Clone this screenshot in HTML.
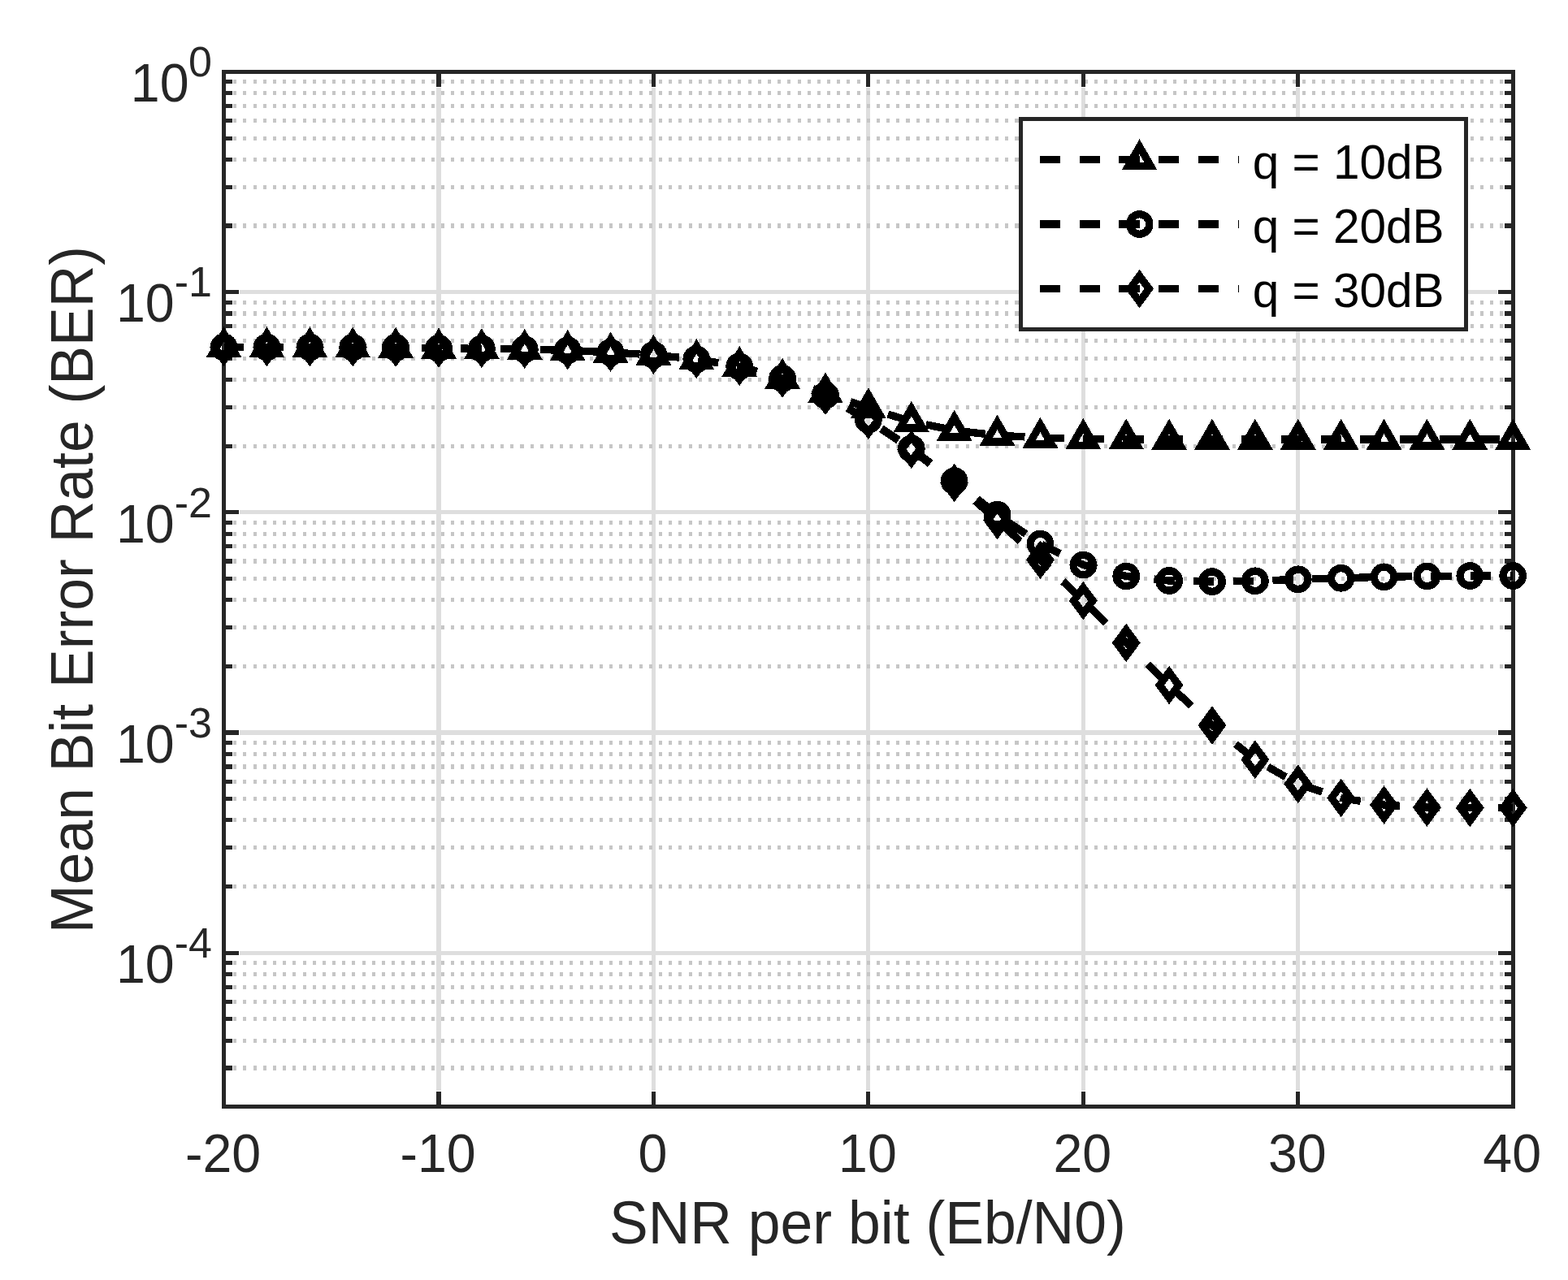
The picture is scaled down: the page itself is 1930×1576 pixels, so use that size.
<!DOCTYPE html>
<html lang="en">
<head>
<meta charset="utf-8">
<title>Mean Bit Error Rate vs SNR per bit</title>
<style>
html,body{margin:0;padding:0;background:#fff;}
body{width:1930px;height:1576px;}
svg{display:block;}
</style>
</head>
<body>
<svg width="1930" height="1576" viewBox="0 0 1930 1576" role="img" aria-label="Mean Bit Error Rate versus SNR per bit">
<rect width="1930" height="1576" fill="#fff"/>
<g shape-rendering="crispEdges" fill="none">
<line x1="540.00" y1="88.52" x2="540.00" y2="1362.69" stroke="#dedede" stroke-width="5.12"/>
<line x1="804.44" y1="88.52" x2="804.44" y2="1362.69" stroke="#dedede" stroke-width="5.12"/>
<line x1="1068.88" y1="88.52" x2="1068.88" y2="1362.69" stroke="#dedede" stroke-width="5.12"/>
<line x1="1333.32" y1="88.52" x2="1333.32" y2="1362.69" stroke="#dedede" stroke-width="5.12"/>
<line x1="1597.76" y1="88.52" x2="1597.76" y2="1362.69" stroke="#dedede" stroke-width="5.12"/>
<line x1="275.56" y1="359.68" x2="1862.2" y2="359.68" stroke="#dedede" stroke-width="5.12"/>
<line x1="275.56" y1="630.84" x2="1862.2" y2="630.84" stroke="#dedede" stroke-width="5.12"/>
<line x1="275.56" y1="902.00" x2="1862.2" y2="902.00" stroke="#dedede" stroke-width="5.12"/>
<line x1="275.56" y1="1173.16" x2="1862.2" y2="1173.16" stroke="#dedede" stroke-width="5.12"/>
<line x1="275.06" y1="278.05" x2="1862.20" y2="278.05" stroke="#c6c6c6" stroke-width="5.12" stroke-dasharray="4.045 8.135"/>
<line x1="275.06" y1="230.30" x2="1862.20" y2="230.30" stroke="#c6c6c6" stroke-width="5.12" stroke-dasharray="4.045 8.135"/>
<line x1="275.06" y1="196.43" x2="1862.20" y2="196.43" stroke="#c6c6c6" stroke-width="5.12" stroke-dasharray="4.045 8.135"/>
<line x1="275.06" y1="170.15" x2="1862.20" y2="170.15" stroke="#c6c6c6" stroke-width="5.12" stroke-dasharray="4.045 8.135"/>
<line x1="275.06" y1="148.68" x2="1862.20" y2="148.68" stroke="#c6c6c6" stroke-width="5.12" stroke-dasharray="4.045 8.135"/>
<line x1="275.06" y1="130.52" x2="1862.20" y2="130.52" stroke="#c6c6c6" stroke-width="5.12" stroke-dasharray="4.045 8.135"/>
<line x1="275.06" y1="114.80" x2="1862.20" y2="114.80" stroke="#c6c6c6" stroke-width="5.12" stroke-dasharray="4.045 8.135"/>
<line x1="275.06" y1="100.93" x2="1862.20" y2="100.93" stroke="#c6c6c6" stroke-width="5.12" stroke-dasharray="4.045 8.135"/>
<line x1="275.06" y1="549.21" x2="1862.20" y2="549.21" stroke="#c6c6c6" stroke-width="5.12" stroke-dasharray="4.045 8.135"/>
<line x1="275.06" y1="501.46" x2="1862.20" y2="501.46" stroke="#c6c6c6" stroke-width="5.12" stroke-dasharray="4.045 8.135"/>
<line x1="275.06" y1="467.58" x2="1862.20" y2="467.58" stroke="#c6c6c6" stroke-width="5.12" stroke-dasharray="4.045 8.135"/>
<line x1="275.06" y1="441.31" x2="1862.20" y2="441.31" stroke="#c6c6c6" stroke-width="5.12" stroke-dasharray="4.045 8.135"/>
<line x1="275.06" y1="419.84" x2="1862.20" y2="419.84" stroke="#c6c6c6" stroke-width="5.12" stroke-dasharray="4.045 8.135"/>
<line x1="275.06" y1="401.68" x2="1862.20" y2="401.68" stroke="#c6c6c6" stroke-width="5.12" stroke-dasharray="4.045 8.135"/>
<line x1="275.06" y1="385.96" x2="1862.20" y2="385.96" stroke="#c6c6c6" stroke-width="5.12" stroke-dasharray="4.045 8.135"/>
<line x1="275.06" y1="372.09" x2="1862.20" y2="372.09" stroke="#c6c6c6" stroke-width="5.12" stroke-dasharray="4.045 8.135"/>
<line x1="275.06" y1="820.37" x2="1862.20" y2="820.37" stroke="#c6c6c6" stroke-width="5.12" stroke-dasharray="4.045 8.135"/>
<line x1="275.06" y1="772.62" x2="1862.20" y2="772.62" stroke="#c6c6c6" stroke-width="5.12" stroke-dasharray="4.045 8.135"/>
<line x1="275.06" y1="738.74" x2="1862.20" y2="738.74" stroke="#c6c6c6" stroke-width="5.12" stroke-dasharray="4.045 8.135"/>
<line x1="275.06" y1="712.47" x2="1862.20" y2="712.47" stroke="#c6c6c6" stroke-width="5.12" stroke-dasharray="4.045 8.135"/>
<line x1="275.06" y1="691.00" x2="1862.20" y2="691.00" stroke="#c6c6c6" stroke-width="5.12" stroke-dasharray="4.045 8.135"/>
<line x1="275.06" y1="672.84" x2="1862.20" y2="672.84" stroke="#c6c6c6" stroke-width="5.12" stroke-dasharray="4.045 8.135"/>
<line x1="275.06" y1="657.12" x2="1862.20" y2="657.12" stroke="#c6c6c6" stroke-width="5.12" stroke-dasharray="4.045 8.135"/>
<line x1="275.06" y1="643.25" x2="1862.20" y2="643.25" stroke="#c6c6c6" stroke-width="5.12" stroke-dasharray="4.045 8.135"/>
<line x1="275.06" y1="1091.53" x2="1862.20" y2="1091.53" stroke="#c6c6c6" stroke-width="5.12" stroke-dasharray="4.045 8.135"/>
<line x1="275.06" y1="1043.78" x2="1862.20" y2="1043.78" stroke="#c6c6c6" stroke-width="5.12" stroke-dasharray="4.045 8.135"/>
<line x1="275.06" y1="1009.90" x2="1862.20" y2="1009.90" stroke="#c6c6c6" stroke-width="5.12" stroke-dasharray="4.045 8.135"/>
<line x1="275.06" y1="983.63" x2="1862.20" y2="983.63" stroke="#c6c6c6" stroke-width="5.12" stroke-dasharray="4.045 8.135"/>
<line x1="275.06" y1="962.15" x2="1862.20" y2="962.15" stroke="#c6c6c6" stroke-width="5.12" stroke-dasharray="4.045 8.135"/>
<line x1="275.06" y1="944.00" x2="1862.20" y2="944.00" stroke="#c6c6c6" stroke-width="5.12" stroke-dasharray="4.045 8.135"/>
<line x1="275.06" y1="928.28" x2="1862.20" y2="928.28" stroke="#c6c6c6" stroke-width="5.12" stroke-dasharray="4.045 8.135"/>
<line x1="275.06" y1="914.41" x2="1862.20" y2="914.41" stroke="#c6c6c6" stroke-width="5.12" stroke-dasharray="4.045 8.135"/>
<line x1="275.06" y1="1314.94" x2="1862.20" y2="1314.94" stroke="#c6c6c6" stroke-width="5.12" stroke-dasharray="4.045 8.135"/>
<line x1="275.06" y1="1281.06" x2="1862.20" y2="1281.06" stroke="#c6c6c6" stroke-width="5.12" stroke-dasharray="4.045 8.135"/>
<line x1="275.06" y1="1254.78" x2="1862.20" y2="1254.78" stroke="#c6c6c6" stroke-width="5.12" stroke-dasharray="4.045 8.135"/>
<line x1="275.06" y1="1233.31" x2="1862.20" y2="1233.31" stroke="#c6c6c6" stroke-width="5.12" stroke-dasharray="4.045 8.135"/>
<line x1="275.06" y1="1215.16" x2="1862.20" y2="1215.16" stroke="#c6c6c6" stroke-width="5.12" stroke-dasharray="4.045 8.135"/>
<line x1="275.06" y1="1199.44" x2="1862.20" y2="1199.44" stroke="#c6c6c6" stroke-width="5.12" stroke-dasharray="4.045 8.135"/>
<line x1="275.06" y1="1185.57" x2="1862.20" y2="1185.57" stroke="#c6c6c6" stroke-width="5.12" stroke-dasharray="4.045 8.135"/>
</g>
<g shape-rendering="crispEdges" fill="none" stroke="#fff" stroke-width="5.12">
<line x1="540.00" y1="1362.69" x2="540.00" y2="1343.24"/>
<line x1="540.00" y1="88.52" x2="540.00" y2="107.97"/>
<line x1="804.44" y1="1362.69" x2="804.44" y2="1343.24"/>
<line x1="804.44" y1="88.52" x2="804.44" y2="107.97"/>
<line x1="1068.88" y1="1362.69" x2="1068.88" y2="1343.24"/>
<line x1="1068.88" y1="88.52" x2="1068.88" y2="107.97"/>
<line x1="1333.32" y1="1362.69" x2="1333.32" y2="1343.24"/>
<line x1="1333.32" y1="88.52" x2="1333.32" y2="107.97"/>
<line x1="1597.76" y1="1362.69" x2="1597.76" y2="1343.24"/>
<line x1="1597.76" y1="88.52" x2="1597.76" y2="107.97"/>
<line x1="275.56" y1="278.05" x2="287.08" y2="278.05"/>
<line x1="1862.2" y1="278.05" x2="1850.68" y2="278.05"/>
<line x1="275.56" y1="230.30" x2="287.08" y2="230.30"/>
<line x1="1862.2" y1="230.30" x2="1850.68" y2="230.30"/>
<line x1="275.56" y1="196.43" x2="287.08" y2="196.43"/>
<line x1="1862.2" y1="196.43" x2="1850.68" y2="196.43"/>
<line x1="275.56" y1="170.15" x2="287.08" y2="170.15"/>
<line x1="1862.2" y1="170.15" x2="1850.68" y2="170.15"/>
<line x1="275.56" y1="148.68" x2="287.08" y2="148.68"/>
<line x1="1862.2" y1="148.68" x2="1850.68" y2="148.68"/>
<line x1="275.56" y1="130.52" x2="287.08" y2="130.52"/>
<line x1="1862.2" y1="130.52" x2="1850.68" y2="130.52"/>
<line x1="275.56" y1="114.80" x2="287.08" y2="114.80"/>
<line x1="1862.2" y1="114.80" x2="1850.68" y2="114.80"/>
<line x1="275.56" y1="100.93" x2="287.08" y2="100.93"/>
<line x1="1862.2" y1="100.93" x2="1850.68" y2="100.93"/>
<line x1="275.56" y1="359.68" x2="295.01" y2="359.68"/>
<line x1="1862.2" y1="359.68" x2="1842.75" y2="359.68"/>
<line x1="275.56" y1="549.21" x2="287.08" y2="549.21"/>
<line x1="1862.2" y1="549.21" x2="1850.68" y2="549.21"/>
<line x1="275.56" y1="501.46" x2="287.08" y2="501.46"/>
<line x1="1862.2" y1="501.46" x2="1850.68" y2="501.46"/>
<line x1="275.56" y1="467.58" x2="287.08" y2="467.58"/>
<line x1="1862.2" y1="467.58" x2="1850.68" y2="467.58"/>
<line x1="275.56" y1="441.31" x2="287.08" y2="441.31"/>
<line x1="1862.2" y1="441.31" x2="1850.68" y2="441.31"/>
<line x1="275.56" y1="419.84" x2="287.08" y2="419.84"/>
<line x1="1862.2" y1="419.84" x2="1850.68" y2="419.84"/>
<line x1="275.56" y1="401.68" x2="287.08" y2="401.68"/>
<line x1="1862.2" y1="401.68" x2="1850.68" y2="401.68"/>
<line x1="275.56" y1="385.96" x2="287.08" y2="385.96"/>
<line x1="1862.2" y1="385.96" x2="1850.68" y2="385.96"/>
<line x1="275.56" y1="372.09" x2="287.08" y2="372.09"/>
<line x1="1862.2" y1="372.09" x2="1850.68" y2="372.09"/>
<line x1="275.56" y1="630.84" x2="295.01" y2="630.84"/>
<line x1="1862.2" y1="630.84" x2="1842.75" y2="630.84"/>
<line x1="275.56" y1="820.37" x2="287.08" y2="820.37"/>
<line x1="1862.2" y1="820.37" x2="1850.68" y2="820.37"/>
<line x1="275.56" y1="772.62" x2="287.08" y2="772.62"/>
<line x1="1862.2" y1="772.62" x2="1850.68" y2="772.62"/>
<line x1="275.56" y1="738.74" x2="287.08" y2="738.74"/>
<line x1="1862.2" y1="738.74" x2="1850.68" y2="738.74"/>
<line x1="275.56" y1="712.47" x2="287.08" y2="712.47"/>
<line x1="1862.2" y1="712.47" x2="1850.68" y2="712.47"/>
<line x1="275.56" y1="691.00" x2="287.08" y2="691.00"/>
<line x1="1862.2" y1="691.00" x2="1850.68" y2="691.00"/>
<line x1="275.56" y1="672.84" x2="287.08" y2="672.84"/>
<line x1="1862.2" y1="672.84" x2="1850.68" y2="672.84"/>
<line x1="275.56" y1="657.12" x2="287.08" y2="657.12"/>
<line x1="1862.2" y1="657.12" x2="1850.68" y2="657.12"/>
<line x1="275.56" y1="643.25" x2="287.08" y2="643.25"/>
<line x1="1862.2" y1="643.25" x2="1850.68" y2="643.25"/>
<line x1="275.56" y1="902.00" x2="295.01" y2="902.00"/>
<line x1="1862.2" y1="902.00" x2="1842.75" y2="902.00"/>
<line x1="275.56" y1="1091.53" x2="287.08" y2="1091.53"/>
<line x1="1862.2" y1="1091.53" x2="1850.68" y2="1091.53"/>
<line x1="275.56" y1="1043.78" x2="287.08" y2="1043.78"/>
<line x1="1862.2" y1="1043.78" x2="1850.68" y2="1043.78"/>
<line x1="275.56" y1="1009.90" x2="287.08" y2="1009.90"/>
<line x1="1862.2" y1="1009.90" x2="1850.68" y2="1009.90"/>
<line x1="275.56" y1="983.63" x2="287.08" y2="983.63"/>
<line x1="1862.2" y1="983.63" x2="1850.68" y2="983.63"/>
<line x1="275.56" y1="962.15" x2="287.08" y2="962.15"/>
<line x1="1862.2" y1="962.15" x2="1850.68" y2="962.15"/>
<line x1="275.56" y1="944.00" x2="287.08" y2="944.00"/>
<line x1="1862.2" y1="944.00" x2="1850.68" y2="944.00"/>
<line x1="275.56" y1="928.28" x2="287.08" y2="928.28"/>
<line x1="1862.2" y1="928.28" x2="1850.68" y2="928.28"/>
<line x1="275.56" y1="914.41" x2="287.08" y2="914.41"/>
<line x1="1862.2" y1="914.41" x2="1850.68" y2="914.41"/>
<line x1="275.56" y1="1173.16" x2="295.01" y2="1173.16"/>
<line x1="1862.2" y1="1173.16" x2="1842.75" y2="1173.16"/>
<line x1="275.56" y1="1314.94" x2="287.08" y2="1314.94"/>
<line x1="1862.2" y1="1314.94" x2="1850.68" y2="1314.94"/>
<line x1="275.56" y1="1281.06" x2="287.08" y2="1281.06"/>
<line x1="1862.2" y1="1281.06" x2="1850.68" y2="1281.06"/>
<line x1="275.56" y1="1254.78" x2="287.08" y2="1254.78"/>
<line x1="1862.2" y1="1254.78" x2="1850.68" y2="1254.78"/>
<line x1="275.56" y1="1233.31" x2="287.08" y2="1233.31"/>
<line x1="1862.2" y1="1233.31" x2="1850.68" y2="1233.31"/>
<line x1="275.56" y1="1215.16" x2="287.08" y2="1215.16"/>
<line x1="1862.2" y1="1215.16" x2="1850.68" y2="1215.16"/>
<line x1="275.56" y1="1199.44" x2="287.08" y2="1199.44"/>
<line x1="1862.2" y1="1199.44" x2="1850.68" y2="1199.44"/>
<line x1="275.56" y1="1185.57" x2="287.08" y2="1185.57"/>
<line x1="1862.2" y1="1185.57" x2="1850.68" y2="1185.57"/>
</g>
<g shape-rendering="crispEdges" fill="none" stroke="#262626" stroke-width="5.12">
<rect x="275.56" y="88.52" width="1586.64" height="1274.17"/>
<line x1="540.00" y1="1362.69" x2="540.00" y2="1344.24"/>
<line x1="540.00" y1="88.52" x2="540.00" y2="106.97"/>
<line x1="804.44" y1="1362.69" x2="804.44" y2="1344.24"/>
<line x1="804.44" y1="88.52" x2="804.44" y2="106.97"/>
<line x1="1068.88" y1="1362.69" x2="1068.88" y2="1344.24"/>
<line x1="1068.88" y1="88.52" x2="1068.88" y2="106.97"/>
<line x1="1333.32" y1="1362.69" x2="1333.32" y2="1344.24"/>
<line x1="1333.32" y1="88.52" x2="1333.32" y2="106.97"/>
<line x1="1597.76" y1="1362.69" x2="1597.76" y2="1344.24"/>
<line x1="1597.76" y1="88.52" x2="1597.76" y2="106.97"/>
<line x1="275.56" y1="278.05" x2="286.08" y2="278.05"/>
<line x1="1862.2" y1="278.05" x2="1851.68" y2="278.05"/>
<line x1="275.56" y1="230.30" x2="286.08" y2="230.30"/>
<line x1="1862.2" y1="230.30" x2="1851.68" y2="230.30"/>
<line x1="275.56" y1="196.43" x2="286.08" y2="196.43"/>
<line x1="1862.2" y1="196.43" x2="1851.68" y2="196.43"/>
<line x1="275.56" y1="170.15" x2="286.08" y2="170.15"/>
<line x1="1862.2" y1="170.15" x2="1851.68" y2="170.15"/>
<line x1="275.56" y1="148.68" x2="286.08" y2="148.68"/>
<line x1="1862.2" y1="148.68" x2="1851.68" y2="148.68"/>
<line x1="275.56" y1="130.52" x2="286.08" y2="130.52"/>
<line x1="1862.2" y1="130.52" x2="1851.68" y2="130.52"/>
<line x1="275.56" y1="114.80" x2="286.08" y2="114.80"/>
<line x1="1862.2" y1="114.80" x2="1851.68" y2="114.80"/>
<line x1="275.56" y1="100.93" x2="286.08" y2="100.93"/>
<line x1="1862.2" y1="100.93" x2="1851.68" y2="100.93"/>
<line x1="275.56" y1="359.68" x2="294.01" y2="359.68"/>
<line x1="1862.2" y1="359.68" x2="1843.75" y2="359.68"/>
<line x1="275.56" y1="549.21" x2="286.08" y2="549.21"/>
<line x1="1862.2" y1="549.21" x2="1851.68" y2="549.21"/>
<line x1="275.56" y1="501.46" x2="286.08" y2="501.46"/>
<line x1="1862.2" y1="501.46" x2="1851.68" y2="501.46"/>
<line x1="275.56" y1="467.58" x2="286.08" y2="467.58"/>
<line x1="1862.2" y1="467.58" x2="1851.68" y2="467.58"/>
<line x1="275.56" y1="441.31" x2="286.08" y2="441.31"/>
<line x1="1862.2" y1="441.31" x2="1851.68" y2="441.31"/>
<line x1="275.56" y1="419.84" x2="286.08" y2="419.84"/>
<line x1="1862.2" y1="419.84" x2="1851.68" y2="419.84"/>
<line x1="275.56" y1="401.68" x2="286.08" y2="401.68"/>
<line x1="1862.2" y1="401.68" x2="1851.68" y2="401.68"/>
<line x1="275.56" y1="385.96" x2="286.08" y2="385.96"/>
<line x1="1862.2" y1="385.96" x2="1851.68" y2="385.96"/>
<line x1="275.56" y1="372.09" x2="286.08" y2="372.09"/>
<line x1="1862.2" y1="372.09" x2="1851.68" y2="372.09"/>
<line x1="275.56" y1="630.84" x2="294.01" y2="630.84"/>
<line x1="1862.2" y1="630.84" x2="1843.75" y2="630.84"/>
<line x1="275.56" y1="820.37" x2="286.08" y2="820.37"/>
<line x1="1862.2" y1="820.37" x2="1851.68" y2="820.37"/>
<line x1="275.56" y1="772.62" x2="286.08" y2="772.62"/>
<line x1="1862.2" y1="772.62" x2="1851.68" y2="772.62"/>
<line x1="275.56" y1="738.74" x2="286.08" y2="738.74"/>
<line x1="1862.2" y1="738.74" x2="1851.68" y2="738.74"/>
<line x1="275.56" y1="712.47" x2="286.08" y2="712.47"/>
<line x1="1862.2" y1="712.47" x2="1851.68" y2="712.47"/>
<line x1="275.56" y1="691.00" x2="286.08" y2="691.00"/>
<line x1="1862.2" y1="691.00" x2="1851.68" y2="691.00"/>
<line x1="275.56" y1="672.84" x2="286.08" y2="672.84"/>
<line x1="1862.2" y1="672.84" x2="1851.68" y2="672.84"/>
<line x1="275.56" y1="657.12" x2="286.08" y2="657.12"/>
<line x1="1862.2" y1="657.12" x2="1851.68" y2="657.12"/>
<line x1="275.56" y1="643.25" x2="286.08" y2="643.25"/>
<line x1="1862.2" y1="643.25" x2="1851.68" y2="643.25"/>
<line x1="275.56" y1="902.00" x2="294.01" y2="902.00"/>
<line x1="1862.2" y1="902.00" x2="1843.75" y2="902.00"/>
<line x1="275.56" y1="1091.53" x2="286.08" y2="1091.53"/>
<line x1="1862.2" y1="1091.53" x2="1851.68" y2="1091.53"/>
<line x1="275.56" y1="1043.78" x2="286.08" y2="1043.78"/>
<line x1="1862.2" y1="1043.78" x2="1851.68" y2="1043.78"/>
<line x1="275.56" y1="1009.90" x2="286.08" y2="1009.90"/>
<line x1="1862.2" y1="1009.90" x2="1851.68" y2="1009.90"/>
<line x1="275.56" y1="983.63" x2="286.08" y2="983.63"/>
<line x1="1862.2" y1="983.63" x2="1851.68" y2="983.63"/>
<line x1="275.56" y1="962.15" x2="286.08" y2="962.15"/>
<line x1="1862.2" y1="962.15" x2="1851.68" y2="962.15"/>
<line x1="275.56" y1="944.00" x2="286.08" y2="944.00"/>
<line x1="1862.2" y1="944.00" x2="1851.68" y2="944.00"/>
<line x1="275.56" y1="928.28" x2="286.08" y2="928.28"/>
<line x1="1862.2" y1="928.28" x2="1851.68" y2="928.28"/>
<line x1="275.56" y1="914.41" x2="286.08" y2="914.41"/>
<line x1="1862.2" y1="914.41" x2="1851.68" y2="914.41"/>
<line x1="275.56" y1="1173.16" x2="294.01" y2="1173.16"/>
<line x1="1862.2" y1="1173.16" x2="1843.75" y2="1173.16"/>
<line x1="275.56" y1="1314.94" x2="286.08" y2="1314.94"/>
<line x1="1862.2" y1="1314.94" x2="1851.68" y2="1314.94"/>
<line x1="275.56" y1="1281.06" x2="286.08" y2="1281.06"/>
<line x1="1862.2" y1="1281.06" x2="1851.68" y2="1281.06"/>
<line x1="275.56" y1="1254.78" x2="286.08" y2="1254.78"/>
<line x1="1862.2" y1="1254.78" x2="1851.68" y2="1254.78"/>
<line x1="275.56" y1="1233.31" x2="286.08" y2="1233.31"/>
<line x1="1862.2" y1="1233.31" x2="1851.68" y2="1233.31"/>
<line x1="275.56" y1="1215.16" x2="286.08" y2="1215.16"/>
<line x1="1862.2" y1="1215.16" x2="1851.68" y2="1215.16"/>
<line x1="275.56" y1="1199.44" x2="286.08" y2="1199.44"/>
<line x1="1862.2" y1="1199.44" x2="1851.68" y2="1199.44"/>
<line x1="275.56" y1="1185.57" x2="286.08" y2="1185.57"/>
<line x1="1862.2" y1="1185.57" x2="1851.68" y2="1185.57"/>
</g>
<g fill="none" stroke="#000" stroke-width="9.33" stroke-miterlimit="10" shape-rendering="crispEdges">
<polyline points="275.56,427.30 328.45,427.40 381.34,427.50 434.22,427.70 487.11,428.00 540.00,428.90 592.89,429.30 645.78,430.10 698.66,431.30 751.55,433.90 804.44,437.00 857.33,442.30 910.22,451.20 963.10,466.00 1015.99,483.60 1068.88,502.50 1121.77,519.00 1174.66,530.00 1227.54,536.00 1280.43,539.00 1333.32,540.30 1386.21,540.80 1439.10,541.00 1491.98,541.00 1544.87,541.00 1597.76,541.00 1650.65,541.00 1703.54,541.00 1756.42,541.00 1809.31,541.00 1862.20,541.00" stroke-dasharray="25.36 23.36" stroke-dashoffset="0.5" stroke-linejoin="round"/>
<path d="M261.71 435.30L289.41 435.30L275.56 411.30Z"/>
<path d="M314.60 435.40L342.30 435.40L328.45 411.40Z"/>
<path d="M367.49 435.50L395.19 435.50L381.34 411.50Z"/>
<path d="M420.37 435.70L448.07 435.70L434.22 411.70Z"/>
<path d="M473.26 436.00L500.96 436.00L487.11 412.00Z"/>
<path d="M526.15 436.90L553.85 436.90L540.00 412.90Z"/>
<path d="M579.04 437.30L606.74 437.30L592.89 413.30Z"/>
<path d="M631.93 438.10L659.63 438.10L645.78 414.10Z"/>
<path d="M684.81 439.30L712.51 439.30L698.66 415.30Z"/>
<path d="M737.70 441.90L765.40 441.90L751.55 417.90Z"/>
<path d="M790.59 445.00L818.29 445.00L804.44 421.00Z"/>
<path d="M843.48 450.30L871.18 450.30L857.33 426.30Z"/>
<path d="M896.37 459.20L924.07 459.20L910.22 435.20Z"/>
<path d="M949.25 474.00L976.95 474.00L963.10 450.00Z"/>
<path d="M1002.14 491.60L1029.84 491.60L1015.99 467.60Z"/>
<path d="M1055.03 510.50L1082.73 510.50L1068.88 486.50Z"/>
<path d="M1107.92 527.00L1135.62 527.00L1121.77 503.00Z"/>
<path d="M1160.81 538.00L1188.51 538.00L1174.66 514.00Z"/>
<path d="M1213.69 544.00L1241.39 544.00L1227.54 520.00Z"/>
<path d="M1266.58 547.00L1294.28 547.00L1280.43 523.00Z"/>
<path d="M1319.47 548.30L1347.17 548.30L1333.32 524.30Z"/>
<path d="M1372.36 548.80L1400.06 548.80L1386.21 524.80Z"/>
<path d="M1425.25 549.00L1452.95 549.00L1439.10 525.00Z"/>
<path d="M1478.13 549.00L1505.83 549.00L1491.98 525.00Z"/>
<path d="M1531.02 549.00L1558.72 549.00L1544.87 525.00Z"/>
<path d="M1583.91 549.00L1611.61 549.00L1597.76 525.00Z"/>
<path d="M1636.80 549.00L1664.50 549.00L1650.65 525.00Z"/>
<path d="M1689.69 549.00L1717.39 549.00L1703.54 525.00Z"/>
<path d="M1742.57 549.00L1770.27 549.00L1756.42 525.00Z"/>
<path d="M1795.46 549.00L1823.16 549.00L1809.31 525.00Z"/>
<path d="M1848.35 549.00L1876.05 549.00L1862.20 525.00Z"/>
<polyline points="275.56,427.30 328.45,427.40 381.34,427.50 434.22,427.70 487.11,428.00 540.00,428.90 592.89,429.30 645.78,430.10 698.66,431.30 751.55,433.90 804.44,437.00 857.33,442.30 910.22,451.20 963.10,466.00 1015.99,486.80 1068.88,516.90 1121.77,552.30 1174.66,592.30 1227.54,633.70 1280.43,669.60 1333.32,695.60 1386.21,709.50 1439.10,715.00 1491.98,716.10 1544.87,715.30 1597.76,713.30 1650.65,711.80 1703.54,710.30 1756.42,709.40 1809.31,709.00 1862.20,709.00" stroke-dasharray="25.36 23.36" stroke-dashoffset="0.5" stroke-linejoin="round"/>
<circle cx="275.56" cy="427.30" r="12.2"/>
<circle cx="328.45" cy="427.40" r="12.2"/>
<circle cx="381.34" cy="427.50" r="12.2"/>
<circle cx="434.22" cy="427.70" r="12.2"/>
<circle cx="487.11" cy="428.00" r="12.2"/>
<circle cx="540.00" cy="428.90" r="12.2"/>
<circle cx="592.89" cy="429.30" r="12.2"/>
<circle cx="645.78" cy="430.10" r="12.2"/>
<circle cx="698.66" cy="431.30" r="12.2"/>
<circle cx="751.55" cy="433.90" r="12.2"/>
<circle cx="804.44" cy="437.00" r="12.2"/>
<circle cx="857.33" cy="442.30" r="12.2"/>
<circle cx="910.22" cy="451.20" r="12.2"/>
<circle cx="963.10" cy="466.00" r="12.2"/>
<circle cx="1015.99" cy="486.80" r="12.2"/>
<circle cx="1068.88" cy="516.90" r="12.2"/>
<circle cx="1121.77" cy="552.30" r="12.2"/>
<circle cx="1174.66" cy="592.30" r="12.2"/>
<circle cx="1227.54" cy="633.70" r="12.2"/>
<circle cx="1280.43" cy="669.60" r="12.2"/>
<circle cx="1333.32" cy="695.60" r="12.2"/>
<circle cx="1386.21" cy="709.50" r="12.2"/>
<circle cx="1439.10" cy="715.00" r="12.2"/>
<circle cx="1491.98" cy="716.10" r="12.2"/>
<circle cx="1544.87" cy="715.30" r="12.2"/>
<circle cx="1597.76" cy="713.30" r="12.2"/>
<circle cx="1650.65" cy="711.80" r="12.2"/>
<circle cx="1703.54" cy="710.30" r="12.2"/>
<circle cx="1756.42" cy="709.40" r="12.2"/>
<circle cx="1809.31" cy="709.00" r="12.2"/>
<circle cx="1862.20" cy="709.00" r="12.2"/>
<polyline points="275.56,427.30 328.45,427.40 381.34,427.50 434.22,427.70 487.11,428.00 540.00,428.90 592.89,429.30 645.78,430.10 698.66,431.30 751.55,433.90 804.44,437.00 857.33,442.30 910.22,451.20 963.10,466.00 1015.99,487.30 1068.88,517.30 1121.77,553.30 1174.66,594.50 1227.54,640.50 1280.43,689.30 1333.32,739.60 1386.21,791.50 1439.10,843.60 1491.98,893.10 1544.87,935.30 1597.76,965.20 1650.65,982.50 1703.54,991.10 1756.42,994.10 1809.31,994.60 1862.20,994.70" stroke-dasharray="25.36 23.36" stroke-dashoffset="0.5" stroke-linejoin="round"/>
<path d="M263.86 427.30L275.56 411.40L287.26 427.30L275.56 443.20Z"/>
<path d="M316.75 427.40L328.45 411.50L340.15 427.40L328.45 443.30Z"/>
<path d="M369.64 427.50L381.34 411.60L393.04 427.50L381.34 443.40Z"/>
<path d="M422.52 427.70L434.22 411.80L445.92 427.70L434.22 443.60Z"/>
<path d="M475.41 428.00L487.11 412.10L498.81 428.00L487.11 443.90Z"/>
<path d="M528.30 428.90L540.00 413.00L551.70 428.90L540.00 444.80Z"/>
<path d="M581.19 429.30L592.89 413.40L604.59 429.30L592.89 445.20Z"/>
<path d="M634.08 430.10L645.78 414.20L657.48 430.10L645.78 446.00Z"/>
<path d="M686.96 431.30L698.66 415.40L710.36 431.30L698.66 447.20Z"/>
<path d="M739.85 433.90L751.55 418.00L763.25 433.90L751.55 449.80Z"/>
<path d="M792.74 437.00L804.44 421.10L816.14 437.00L804.44 452.90Z"/>
<path d="M845.63 442.30L857.33 426.40L869.03 442.30L857.33 458.20Z"/>
<path d="M898.52 451.20L910.22 435.30L921.92 451.20L910.22 467.10Z"/>
<path d="M951.40 466.00L963.10 450.10L974.80 466.00L963.10 481.90Z"/>
<path d="M1004.29 487.30L1015.99 471.40L1027.69 487.30L1015.99 503.20Z"/>
<path d="M1057.18 517.30L1068.88 501.40L1080.58 517.30L1068.88 533.20Z"/>
<path d="M1110.07 553.30L1121.77 537.40L1133.47 553.30L1121.77 569.20Z"/>
<path d="M1162.96 594.50L1174.66 578.60L1186.36 594.50L1174.66 610.40Z"/>
<path d="M1215.84 640.50L1227.54 624.60L1239.24 640.50L1227.54 656.40Z"/>
<path d="M1268.73 689.30L1280.43 673.40L1292.13 689.30L1280.43 705.20Z"/>
<path d="M1321.62 739.60L1333.32 723.70L1345.02 739.60L1333.32 755.50Z"/>
<path d="M1374.51 791.50L1386.21 775.60L1397.91 791.50L1386.21 807.40Z"/>
<path d="M1427.40 843.60L1439.10 827.70L1450.80 843.60L1439.10 859.50Z"/>
<path d="M1480.28 893.10L1491.98 877.20L1503.68 893.10L1491.98 909.00Z"/>
<path d="M1533.17 935.30L1544.87 919.40L1556.57 935.30L1544.87 951.20Z"/>
<path d="M1586.06 965.20L1597.76 949.30L1609.46 965.20L1597.76 981.10Z"/>
<path d="M1638.95 982.50L1650.65 966.60L1662.35 982.50L1650.65 998.40Z"/>
<path d="M1691.84 991.10L1703.54 975.20L1715.24 991.10L1703.54 1007.00Z"/>
<path d="M1744.72 994.10L1756.42 978.20L1768.12 994.10L1756.42 1010.00Z"/>
<path d="M1797.61 994.60L1809.31 978.70L1821.01 994.60L1809.31 1010.50Z"/>
<path d="M1850.50 994.70L1862.20 978.80L1873.90 994.70L1862.20 1010.60Z"/>
</g>
<g font-family='"Liberation Sans", "DejaVu Sans", sans-serif' fill="#262626">
<text transform="translate(274.56 1442.8) scale(0.992 1.013)" font-size="65.0" text-anchor="middle">-20</text>
<text transform="translate(539.00 1442.8) scale(0.992 1.013)" font-size="65.0" text-anchor="middle">-10</text>
<text transform="translate(803.44 1442.8) scale(0.992 1.013)" font-size="65.0" text-anchor="middle">0</text>
<text transform="translate(1067.88 1442.8) scale(0.992 1.013)" font-size="65.0" text-anchor="middle">10</text>
<text transform="translate(1332.32 1442.8) scale(0.992 1.013)" font-size="65.0" text-anchor="middle">20</text>
<text transform="translate(1596.76 1442.8) scale(0.992 1.013)" font-size="65.0" text-anchor="middle">30</text>
<text transform="translate(1861.20 1442.8) scale(0.992 1.013)" font-size="65.0" text-anchor="middle">40</text>
<text transform="translate(232.5 125.32) scale(0.992 1.013)" font-size="65.0" text-anchor="end">10</text>
<text x="261" y="94.32" font-size="52" text-anchor="end">0</text>
<text transform="translate(214.7 396.48) scale(0.992 1.013)" font-size="65.0" text-anchor="end">10</text>
<text x="261" y="365.48" font-size="52" text-anchor="end">-1</text>
<text transform="translate(214.7 667.64) scale(0.992 1.013)" font-size="65.0" text-anchor="end">10</text>
<text x="261" y="636.64" font-size="52" text-anchor="end">-2</text>
<text transform="translate(214.7 938.80) scale(0.992 1.013)" font-size="65.0" text-anchor="end">10</text>
<text x="261" y="907.80" font-size="52" text-anchor="end">-3</text>
<text transform="translate(214.7 1209.96) scale(0.992 1.013)" font-size="65.0" text-anchor="end">10</text>
<text x="261" y="1178.96" font-size="52" text-anchor="end">-4</text>
<text transform="translate(1067.88 1530.9) scale(1 1.03)" font-size="71.5" text-anchor="middle">SNR per bit (Eb/N0)</text>
<text transform="translate(114.0 725.90) rotate(-90) scale(1 1.025)" font-size="71.5" text-anchor="middle">Mean Bit Error Rate (BER)</text>
</g>
<rect x="1256.5" y="146.5" width="548.0" height="259.0" fill="#fff" stroke="#262626" stroke-width="5.12" shape-rendering="crispEdges"/>
<g fill="none" stroke="#000" stroke-width="9.33" stroke-miterlimit="10" shape-rendering="crispEdges">
<line x1="1279.9" y1="196.6" x2="1525.2" y2="196.6" stroke-dasharray="25.36 23.36"/>
<path d="M1388.75 204.60L1416.45 204.60L1402.60 180.60Z"/>
<line x1="1279.9" y1="276.0" x2="1525.2" y2="276.0" stroke-dasharray="25.36 23.36"/>
<circle cx="1402.60" cy="276.00" r="12.2"/>
<line x1="1279.9" y1="355.6" x2="1525.2" y2="355.6" stroke-dasharray="25.36 23.36"/>
<path d="M1390.90 355.60L1402.60 339.70L1414.30 355.60L1402.60 371.50Z"/>
</g>
<g font-family='"Liberation Sans", "DejaVu Sans", sans-serif' fill="#000" font-size="58.5">
<text x="1541.8" y="220.00">q = 10dB</text>
<text x="1541.8" y="299.10">q = 20dB</text>
<text x="1541.8" y="378.30">q = 30dB</text>
</g>
</svg>
</body>
</html>
